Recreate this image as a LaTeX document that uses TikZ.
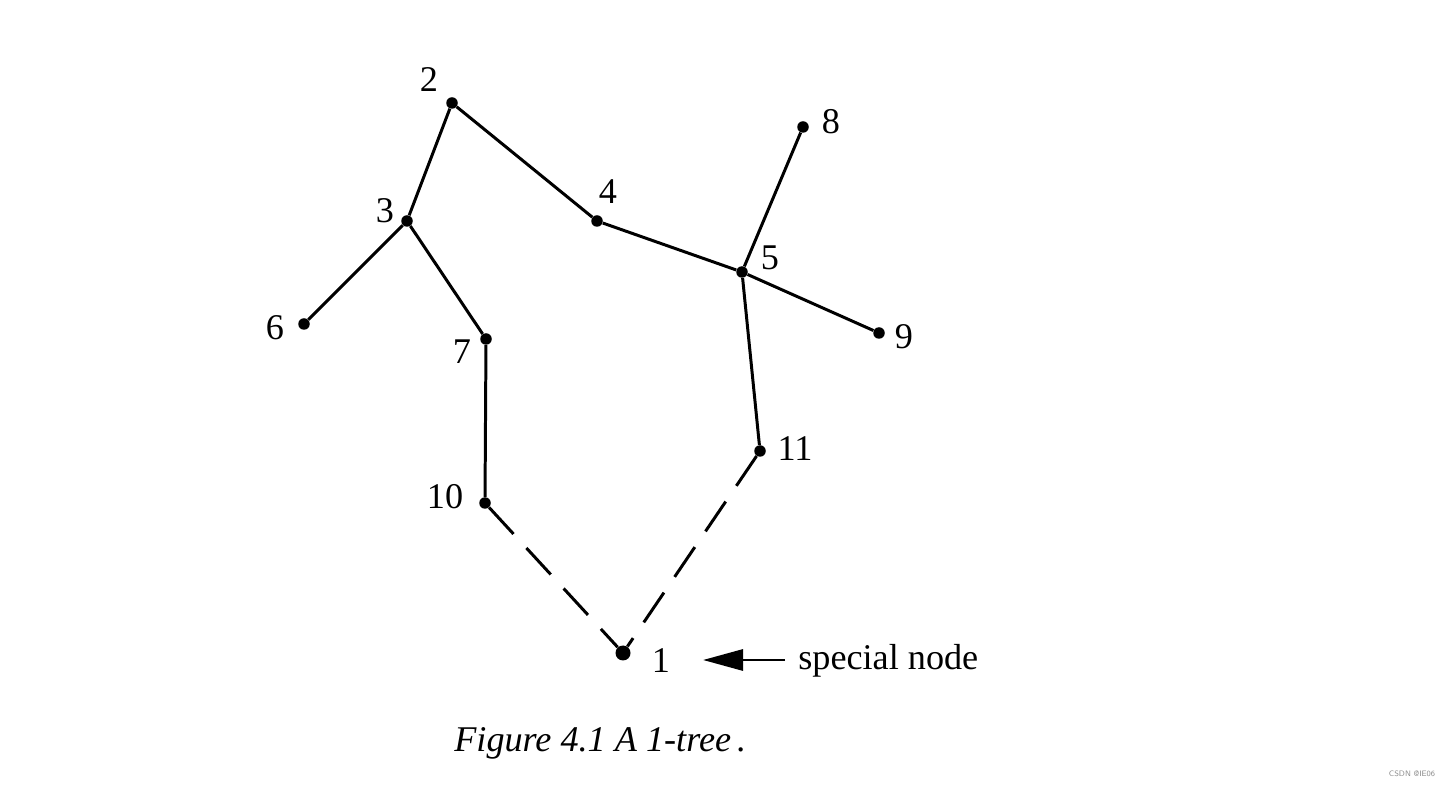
\documentclass[tikz,border=0pt]{standalone}
\usepackage{fontspec}
\setmainfont{Liberation Serif}
\usetikzlibrary{arrows.meta}

\tikzset{
  vertex/.style = {circle, fill, inner sep=0pt, minimum size=0.23cm},
  root/.style = {circle, fill, inner sep=0pt, minimum size=0.3cm},
  lbl/.style = {inner sep=0pt, font=\fontsize{20.6}{24}\selectfont},
  edge/.style = {line width=1.7pt},
  longdash/.style = {line width=1.7pt, dash pattern=on 0.72cm off 0.38cm},
  pointer/.style = {line width=1.7pt, -{Triangle[length=0.8cm, width=0.42cm]}}
}

\begin{document}
\begin{tikzpicture}[x=0.2mm, y=-0.2mm]

    \useasboundingbox (0,0) rectangle (1456,788);

    % --- Vertices ---
    \node[root]   (v1)  at (623,653) {};
    \node[vertex] (v2)  at (452,103) {};
    \node[vertex] (v3)  at (407,221) {};
    \node[vertex] (v4)  at (597,221) {};
    \node[vertex] (v5)  at (742,272) {};
    \node[vertex] (v6)  at (304,324) {};
    \node[vertex] (v7)  at (486,339) {};
    \node[vertex] (v8)  at (803,127) {};
    \node[vertex] (v9)  at (879,333) {};
    \node[vertex] (v10) at (485,503) {};
    \node[vertex] (v11) at (760,451) {};

    % --- Vertex labels ---
    \node[lbl] (l1)  at (661,661) {1};
    \node[lbl] (l2)  at (429,80)  {2};
    \node[lbl] (l3)  at (385,211) {3};
    \node[lbl] (l4)  at (608,192) {4};
    \node[lbl] (l5)  at (770,258) {5};
    \node[lbl] (l6)  at (275,328) {6};
    \node[lbl] (l7)  at (462,352) {7};
    \node[lbl] (l8)  at (831,122) {8};
    \node[lbl] (l9)  at (904,337) {9};
    \node[lbl] (l10) at (445,497) {10};
    \node[lbl] (l11) at (795,449) {11};

    % --- Tree edges (solid) ---
    \draw[edge] (v2) -- (v3);
    \draw[edge] (v2) -- (v4);
    \draw[edge] (v3) -- (v6);
    \draw[edge] (v3) -- (v7);
    \draw[edge] (v7) -- (v10);
    \draw[edge] (v4) -- (v5);
    \draw[edge] (v5) -- (v8);
    \draw[edge] (v5) -- (v9);
    \draw[edge] (v5) -- (v11);

    % --- Edges to the special node (dashed) ---
    \draw[longdash] (v10) -- (v1);
    \draw[longdash] (v11) -- (v1);

    % --- Pointer to special node ---
    \node[lbl, anchor=base west] (special) at (798,670) {special node};
    \coordinate (tail) at (785,660);
    \coordinate (head) at (703,660);
    \draw[pointer] (tail) -- (head);

    % --- Caption ---
    \node[lbl, anchor=base west, font=\fontsize{20.6}{24}\selectfont\itshape]
        (caption) at (454,752) {Figure 4.1 A 1-tree\,.};

    % --- Watermark ---
    \node[inner sep=0pt, font=\sffamily\fontsize{4.5}{5}\selectfont, text=black!45]
        (mark) at (1412,774) {CSDN @IE06};

\end{tikzpicture}
\end{document}
